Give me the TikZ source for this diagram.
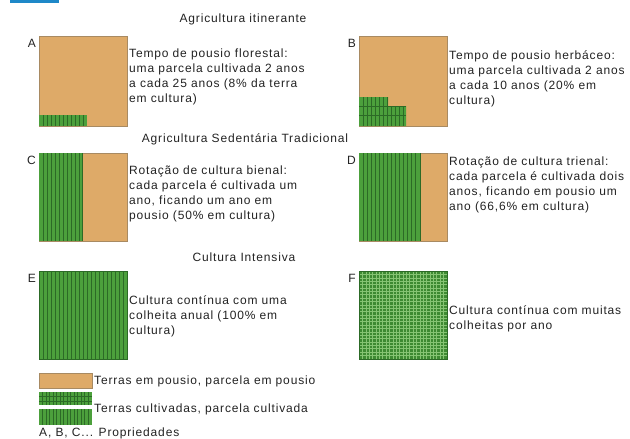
\documentclass[tikz,border=0pt]{standalone}
\usepackage{fontspec}
\setmainfont{Liberation Sans}[LetterSpace=7]
\definecolor{fallowtan}{HTML}{DEAA68}
\definecolor{fallowedge}{HTML}{A88A62}
\definecolor{cropgreen}{HTML}{4CA03C}
\definecolor{cropdark}{HTML}{2C6A26}
\definecolor{gridgreen}{HTML}{3E8A32}
\definecolor{gridlight}{HTML}{86C473}
\definecolor{inkgray}{HTML}{222222}
\definecolor{headblue}{HTML}{1E88C8}

\begin{document}
\begin{tikzpicture}[x=1pt,y=-1pt,
	fallow/.style={fill=fallowtan,draw=fallowedge,line width=0.6pt},
	crop/.style={fill=cropgreen,draw=cropdark,line width=0.5pt},
	stripe/.style={draw=cropdark,line width=0.6pt},
	fine/.style={draw=gridlight,line width=0.5pt},
	txt/.style={anchor=west,align=left,inner sep=0pt,text=inkgray,font=\fontsize{12}{15}\selectfont},
	title/.style={inner sep=0pt,text=inkgray,font=\fontsize{12}{14}\selectfont},
	plabel/.style={anchor=east,inner sep=0pt,text=inkgray,font=\fontsize{12}{14}\selectfont}]
	\useasboundingbox (0,0) rectangle (630,439);
	\fill[headblue] (10,0) rectangle (59,3);

	% Agricultura itinerante
	\node[title] (tItin) at (243,19) {Agricultura itinerante};
	\draw[fallow] (39,36) rectangle (127,126);
	\fill[cropgreen] (39,115) rectangle (87,126);
	\foreach \x in {43,47,...,83}
		\draw[stripe] (\x,115) -- (\x,126);
	\node[plabel] (lA) at (36,43) {A};
	\node[txt] (txtA) at (129,77) {Tempo de pousio florestal:\\uma parcela cultivada 2 anos\\a cada 25 anos (8\% da terra\\em cultura)};

	\draw[fallow] (359,36) rectangle (447,126);
	\fill[cropgreen] (359,126) -- (359,97) -- (388,97) -- (388,106) -- (406,106) -- (406,126) -- cycle;
	\foreach \x in {363,367,...,387}
		\draw[stripe] (\x,97) -- (\x,126);
	\foreach \x in {391,395,...,403}
		\draw[stripe] (\x,106) -- (\x,126);
	\draw[stripe] (359,106) -- (406,106) (359,115.5) -- (406,115.5);
	\node[plabel] (lB) at (356,43) {B};
	\node[txt] (txtB) at (449,79) {Tempo de pousio herbáceo:\\uma parcela cultivada 2 anos\\a cada 10 anos (20\% em\\cultura)};

	% Agricultura Sedentaria Tradicional
	\node[title] (tSed) at (245,139) {Agricultura Sedentária Tradicional};
	\draw[fallow] (39,153) rectangle (127,241);
	\fill[cropgreen] (39,153) rectangle (82,241);
	\foreach \x in {43,47,...,79}
		\draw[stripe] (\x,153) -- (\x,241);
	\draw[stripe] (82,153) -- (82,241);
	\node[plabel] (lC) at (36,160) {C};
	\node[txt] (txtC) at (129,194) {Rotação de cultura bienal:\\cada parcela é cultivada um\\ano, ficando um ano em\\pousio (50\% em cultura)};

	\draw[fallow] (359,153) rectangle (447,241);
	\fill[cropgreen] (359,153) rectangle (420,241);
	\foreach \x in {363,367,...,415}
		\draw[stripe] (\x,153) -- (\x,241);
	\draw[stripe] (420,153) -- (420,241);
	\node[plabel] (lD) at (356,160) {D};
	\node[txt] (txtD) at (449,185) {Rotação de cultura trienal:\\cada parcela é cultivada dois\\anos, ficando em pousio um\\ano (66,6\% em cultura)};

	% Cultura Intensiva
	\node[title] (tInt) at (244,257) {Cultura Intensiva};
	\draw[crop] (39,271) rectangle (127,359);
	\foreach \x in {43,47,...,123}
		\draw[stripe] (\x,271) -- (\x,359);
	\node[plabel] (lE) at (36,278) {E};
	\node[txt] (txtE) at (129,316) {Cultura contínua com uma\\colheita anual (100\% em\\cultura)};

	\fill[gridgreen] (359,271) rectangle (447,359);
	\foreach \i in {1,...,25} {
		\draw[fine] (359+\i*3.38,271) -- (359+\i*3.38,359);
		\draw[fine] (359,271+\i*3.38) -- (447,271+\i*3.38);
	}
	\draw[cropdark,line width=0.5pt] (359,271) rectangle (447,359);
	\node[plabel] (lF) at (356,278) {F};
	\node[txt] (txtF) at (449,319) {Cultura contínua com muitas\\colheitas por ano};

	% legenda
	\draw[fallow] (39,373) rectangle (92,388);
	\node[txt] (legFallow) at (94,381) {Terras em pousio, parcela em pousio};
	\fill[cropgreen] (39,392) rectangle (92,405);
	\foreach \x in {42.5,46,...,90}
		\draw[stripe] (\x,392) -- (\x,405);
	\draw[stripe] (39,396.5) -- (92,396.5) (39,401) -- (92,401);
	\fill[cropgreen] (39,409) rectangle (92,425);
	\foreach \x in {42.5,46,...,90}
		\draw[stripe] (\x,409) -- (\x,425);
	\node[txt] (legCrop) at (94,409) {Terras cultivadas, parcela cultivada};
	\node[txt] (legProp) at (39,433) {A, B, C... Propriedades};
\end{tikzpicture}
\end{document}
